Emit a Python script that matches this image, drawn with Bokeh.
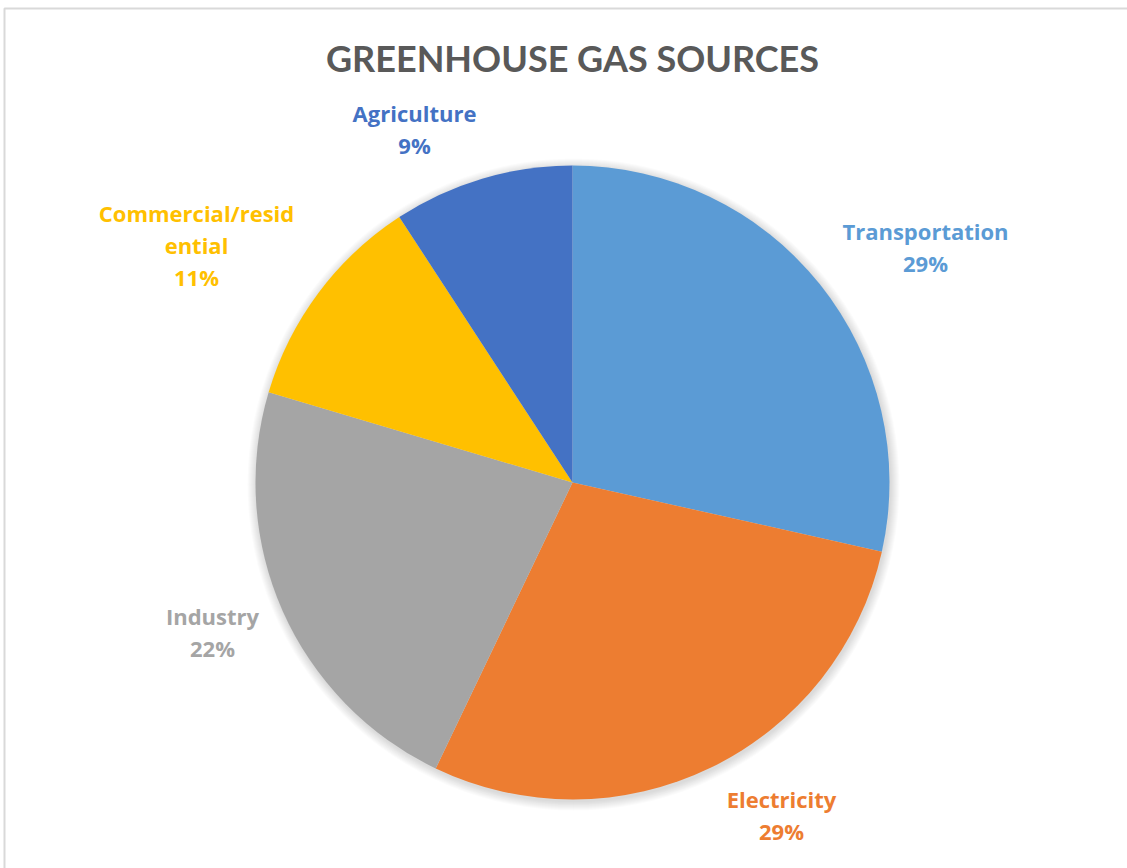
import math
from bokeh.plotting import figure
from bokeh.models import Range1d
from bokeh.core.properties import value
from bokeh.embed import file_html
from bokeh.resources import INLINE

# ---- data ----
categories = ["Transportation", "Electricity", "Industry", "Commercial/residential", "Agriculture"]
shares = [28.5, 28.6, 22.5, 11.2, 9.2]
pct_labels = ["29%", "29%", "22%", "11%", "9%"]
colors = ["#5B9BD5", "#ED7D31", "#A5A5A5", "#FFC000", "#4472C4"]
title_text = "GREENHOUSE GAS SOURCES"

# ---- layout ----
W, H = 1127, 868
cx, cy, R = 572, H - 482, 317
# label block centres (pixel coords, from top-left)
label_centres = [(925, 246), (781, 814), (212, 631), (196, 244), (414, 128)]
TITLE_FONT = "Lato"
LABEL_FONT = "Open Sans"

p = figure(width=W, height=H, output_backend="svg", toolbar_location=None,
           x_range=Range1d(0, W), y_range=Range1d(0, H), min_border=0)
p.axis.visible = False
p.grid.visible = False
p.outline_line_color = None
p.background_fill_color = "white"
p.border_fill_color = "white"

# chart area border
p.line(x=[4, 4, W + 10], y=[-10, H - 8, H - 8], line_color="#D9D9D9", line_width=2)

# soft shadow halo
for k in range(1, 10):
    p.circle(x=[cx + 1], y=[cy - 2], radius=R + k, fill_color="black",
             fill_alpha=0.015, line_color=None)

# wedges
total = sum(shares)
cum = 0.0
starts, ends = [], []
for s in shares:
    a0 = math.pi / 2 - 2 * math.pi * cum / total
    cum += s
    a1 = math.pi / 2 - 2 * math.pi * cum / total
    starts.append(a0)
    ends.append(a1)
p.wedge(x=[cx] * len(shares), y=[cy] * len(shares), radius=R,
        start_angle=starts, end_angle=ends, direction="clock",
        fill_color=colors, line_color=None)

# title
p.text(x=[W / 2 + 8.5], y=[H - 57], text=[title_text], text_align="center",
       text_baseline="middle", text_font=value(TITLE_FONT), text_font_style="bold",
       text_font_size="36px", text_color="#595959")

# data labels
def wrap(name, n=16):
    return [name[i:i + n] for i in range(0, len(name), n)]

LINE_H = 32
for name, pct, col, (lx, ly) in zip(categories, pct_labels, colors, label_centres):
    lines = wrap(name) + [pct]
    top = ly - LINE_H * (len(lines) - 1) / 2
    for i, ln in enumerate(lines):
        p.text(x=[lx], y=[H - (top + i * LINE_H)], text=[ln], text_align="center",
               text_baseline="middle", text_font=value(LABEL_FONT), text_font_style="bold",
               text_font_size="22px", text_color=col)

open("out.html", "w").write(file_html(p, INLINE))
